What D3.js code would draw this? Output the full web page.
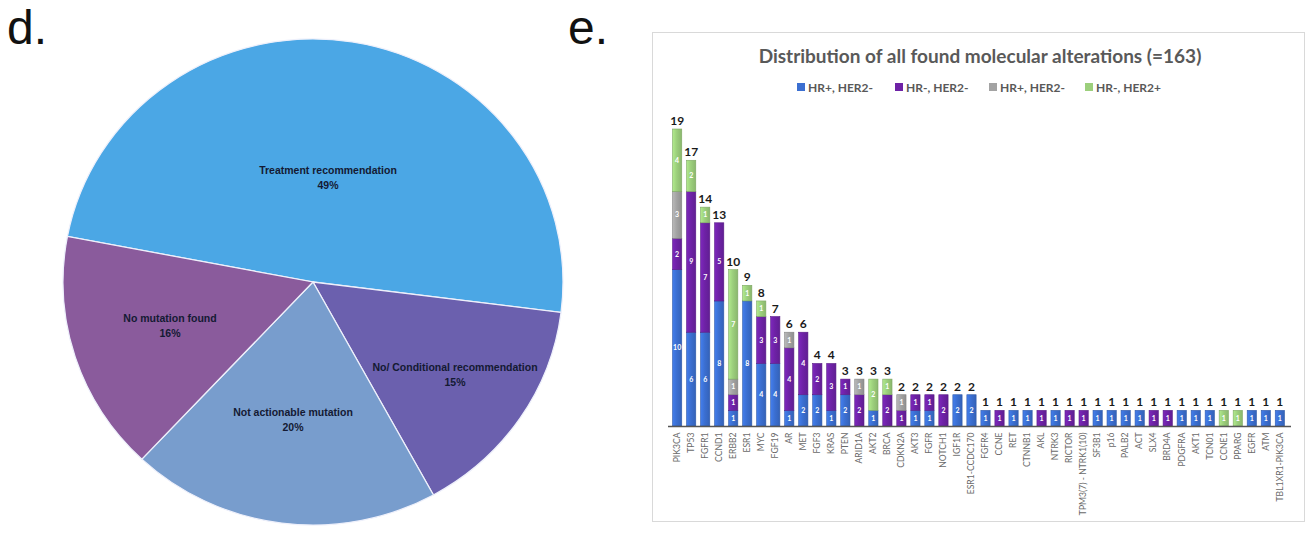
<!DOCTYPE html>
<html>
<head>
<meta charset="utf-8">
<script src="https://cdn.jsdelivr.net/npm/d3@7"></script>
<style>
  html, body { margin: 0; padding: 0; background: #fff; }
  svg { display: block; }
</style>
</head>
<body>
<svg id="chart" width="1311" height="534"></svg>
<script>
// ---- Panel d: outcome of molecular profiling ----
const pieLabels = ["Treatment recommendation", "No/ Conditional recommendation", "Not actionable mutation", "No mutation found"];
const pieValues = [49, 15, 20, 16];
const pieColors = ["#4ba7e5", "#6b60ae", "#789dcd", "#8a5b9c"];

// ---- Panel e: molecular alterations by subtype ----
const genes = ["PIK3CA", "TP53", "FGFR1", "CCND1", "ERBB2", "ESR1", "MYC", "FGF19", "AR", "MET", "FGF3", "KRAS",
  "PTEN", "ARID1A", "AKT2", "BRCA", "CDKN2A", "AKT3", "FGFR", "NOTCH1", "IGF1R", "ESR1-CCDC170", "FGFR4", "CCNE",
  "RET", "CTNNB1", "AKL", "NTRK3", "RICTOR", "TPM3(7) - NTRK1(10)", "SF3B1", "p16", "PALB2", "ACT", "SLX4", "BRD4A",
  "PDGFRA", "AKT1", "TCN01", "CCNE1", "PPARG", "EGFR", "ATM", "TBL1XR1-PIK3CA"];
const hrPosHer2Neg = [10, 6, 6, 8, 1, 8, 4, 4, 1, 2, 2, 1, 2, 0, 1, 0, 0, 1, 1, 0, 2, 2, 1, 0,
  1, 1, 0, 1, 0, 0, 1, 1, 1, 1, 0, 0, 1, 1, 1, 0, 0, 1, 1, 1];
const hrNegHer2Neg = [2, 9, 7, 5, 1, 0, 3, 3, 4, 4, 2, 3, 1, 2, 0, 2, 1, 1, 1, 2, 0, 0, 0, 1,
  0, 0, 1, 0, 1, 1, 0, 0, 0, 0, 1, 1, 0, 0, 0, 0, 0, 0, 0, 0];
const hrPosHer2NegB = [3, 0, 0, 0, 1, 0, 0, 0, 1, 0, 0, 0, 0, 1, 0, 0, 1, 0, 0, 0, 0, 0, 0, 0,
  0, 0, 0, 0, 0, 0, 0, 0, 0, 0, 0, 0, 0, 0, 0, 0, 0, 0, 0, 0];
const hrNegHer2Pos = [4, 2, 1, 0, 7, 1, 1, 0, 0, 0, 0, 0, 0, 0, 2, 1, 0, 0, 0, 0, 0, 0, 0, 0,
  0, 0, 0, 0, 0, 0, 0, 0, 0, 0, 0, 0, 0, 0, 0, 1, 1, 0, 0, 0];
const seriesNames = ["HR+, HER2-", "HR-, HER2-", "HR+, HER2-", "HR-, HER2+"];
const seriesColors = ["#3b6fd1", "#6e22a6", "#a3a3a3", "#9ccf7c"];
const chartTitle = "Distribution of all found molecular alterations (=163)";

const svg = d3.select("#chart");
const defs = svg.append("defs");

// panel letters
svg.append("text").attr("x", 7).attr("y", 44)
  .attr("font-family", "Liberation Sans, Arial, sans-serif").attr("font-size", 48)
  .attr("fill", "#111").text("d.");
svg.append("text").attr("x", 568).attr("y", 44)
  .attr("font-family", "Liberation Sans, Arial, sans-serif").attr("font-size", 48)
  .attr("fill", "#111").text("e.");

// ---------- pie ----------
const cx = 313, cy = 282, r = 250, squash = 0.972;
const pie = d3.pie().sort(null).value(d => d)
  .startAngle(-79.2 * Math.PI / 180).endAngle(-79.2 * Math.PI / 180 + 2 * Math.PI);
const arcs = pie(pieValues);
const arc = d3.arc().innerRadius(0).outerRadius(r);
const pieG = svg.append("g").attr("transform", `translate(${cx},${cy}) scale(1,${squash})`);
pieG.selectAll("path").data(arcs).join("path")
  .attr("d", arc)
  .attr("fill", (d, i) => pieColors[i])
  .attr("stroke", "#eef0fb").attr("stroke-width", 1.3);

const labelPos = [[15, -108], [142, 89], [-20, 134], [-143, 40]];
const labelG = svg.append("g").attr("transform", `translate(${cx},${cy})`);
arcs.forEach((a, i) => {
  const t = labelG.append("text")
    .attr("x", labelPos[i][0]).attr("y", labelPos[i][1])
    .attr("text-anchor", "middle")
    .attr("font-family", "Liberation Sans, Arial, sans-serif")
    .attr("font-weight", "bold").attr("font-size", 10.5)
    .attr("fill", "#141a33");
  t.append("tspan").attr("x", labelPos[i][0]).text(pieLabels[i]);
  t.append("tspan").attr("x", labelPos[i][0]).attr("dy", 14.5)
    .text(Math.round(a.data) + "%");
});

// ---------- stacked bars ----------
svg.append("rect").attr("x", 652.5).attr("y", 32.5).attr("width", 652).attr("height", 489)
  .attr("fill", "#fff").attr("stroke", "#d9d9d9").attr("stroke-width", 1);

svg.append("text").attr("x", 980).attr("y", 63).attr("text-anchor", "middle")
  .attr("font-family", "Lato, Open Sans, sans-serif").attr("font-weight", "bold")
  .attr("font-size", 19).attr("fill", "#595959").text(chartTitle);

// shaded fills give each column a rounded look
seriesColors.forEach((c, i) => {
  const g = defs.append("linearGradient").attr("id", "grad" + i)
    .attr("x1", 0).attr("x2", 1).attr("y1", 0).attr("y2", 0);
  g.append("stop").attr("offset", 0).attr("stop-color", d3.color(c).brighter(0.35));
  g.append("stop").attr("offset", 0.45).attr("stop-color", c);
  g.append("stop").attr("offset", 1).attr("stop-color", d3.color(c).darker(0.35));
});

// legend
const legendX = [797, 895, 989, 1085];
const legend = svg.append("g");
seriesNames.forEach((n, i) => {
  legend.append("rect").attr("x", legendX[i]).attr("y", 83).attr("width", 8).attr("height", 8)
    .attr("fill", seriesColors[i]);
  legend.append("text").attr("x", legendX[i] + 11).attr("y", 91.5)
    .attr("font-family", "Lato, Open Sans, sans-serif").attr("font-weight", "bold")
    .attr("font-size", 12).attr("fill", "#595959").text(n);
});

const x = d3.scaleBand().domain(genes).range([670, 1287]).paddingInner(0.34).paddingOuter(0.18);
const y = d3.scaleLinear().domain([0, 19]).range([426, 129]);

const rows = genes.map((g, i) => ({
  gene: g, s0: hrPosHer2Neg[i], s1: hrNegHer2Neg[i], s2: hrPosHer2NegB[i], s3: hrNegHer2Pos[i]
}));
const stack = d3.stack().keys(["s0", "s1", "s2", "s3"]);
const layers = stack(rows);

const barG = svg.append("g");
layers.forEach((layer, li) => {
  const g = barG.append("g");
  layer.forEach(seg => {
    const v = seg[1] - seg[0];
    if (v <= 0) return;
    const gx = x(seg.data.gene);
    g.append("rect")
      .attr("x", gx).attr("width", x.bandwidth())
      .attr("y", y(seg[1])).attr("height", y(seg[0]) - y(seg[1]))
      .attr("fill", `url(#grad${li})`)
      .attr("stroke", d3.color(seriesColors[li]).darker(0.6)).attr("stroke-width", 0.6);
    g.append("text")
      .attr("x", gx + x.bandwidth() / 2).attr("y", (y(seg[0]) + y(seg[1])) / 2 + 2.5)
      .attr("text-anchor", "middle")
      .attr("font-family", "Lato, Open Sans, sans-serif").attr("font-weight", "bold")
      .attr("font-size", 7).attr("fill", "#fff").text(v);
  });
});

// totals above columns
const totals = rows.map(d => d.s0 + d.s1 + d.s2 + d.s3);
barG.selectAll("text.total").data(rows).join("text").attr("class", "total")
  .attr("x", d => x(d.gene) + x.bandwidth() / 2)
  .attr("y", (d, i) => y(totals[i]) - 4)
  .attr("text-anchor", "middle")
  .attr("font-family", "Lato, Open Sans, sans-serif").attr("font-weight", "bold")
  .attr("font-size", 12).attr("fill", "#1a1a1a")
  .text((d, i) => totals[i]);

// category axis
const xAxis = d3.axisBottom(x).tickSize(0).tickPadding(6);
const axG = svg.append("g").attr("transform", "translate(0,426.5)").call(xAxis);
axG.select(".domain").attr("stroke", "#555").attr("stroke-width", 1.4)
  .attr("d", "M668,0H1291");
axG.selectAll(".tick text")
  .attr("font-family", "Lato, Open Sans, sans-serif").attr("font-size", 8.6)
  .attr("fill", "#6a6a6a")
  .attr("text-anchor", "end").attr("dy", "0.32em")
  .attr("transform", "translate(0,6) rotate(-90)")
  .attr("x", 0).attr("y", 0);
</script>
</body>
</html>
